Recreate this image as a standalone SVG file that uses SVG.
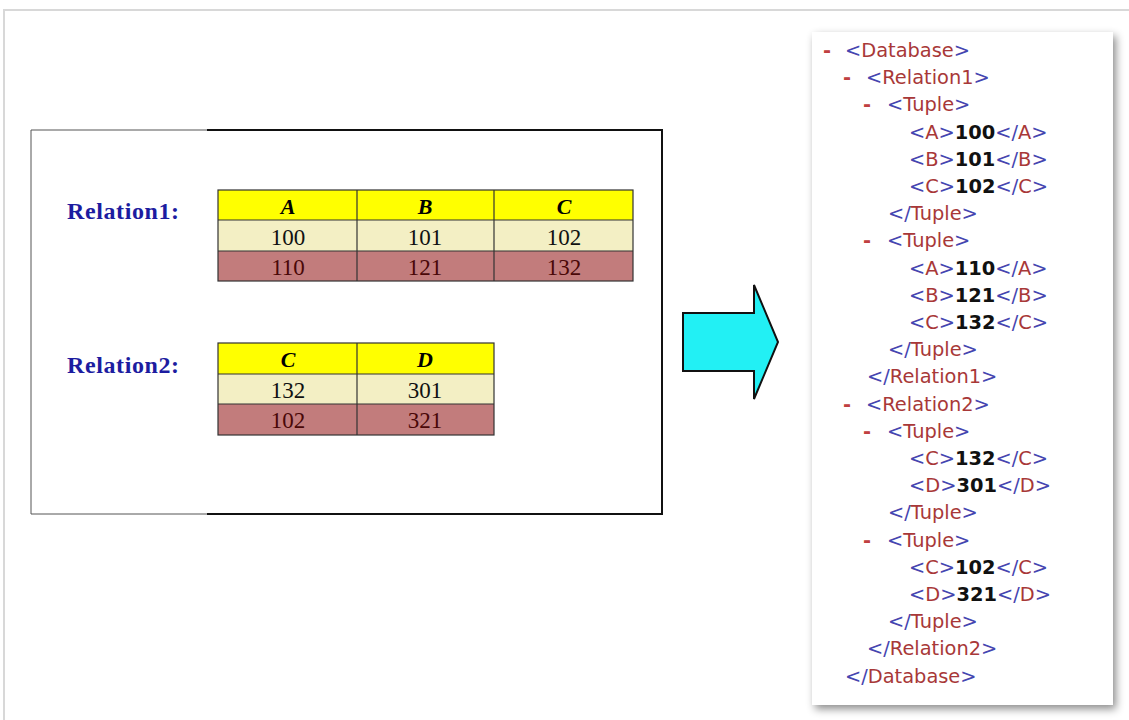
<svg xmlns="http://www.w3.org/2000/svg" width="1129" height="720" viewBox="0 0 1129 720">
<defs>
<filter id="sh" x="-10%" y="-10%" width="130%" height="130%">
<feDropShadow dx="3" dy="4" stdDeviation="4" flood-color="#000" flood-opacity="0.45"/>
</filter>
</defs>
<style>
.lbl{font-family:"Liberation Serif",serif;font-weight:bold;font-size:24px;letter-spacing:0.6px;fill:#1c1ca0}
.hd{font-family:"Liberation Serif",serif;font-weight:bold;font-style:italic;font-size:22px;fill:#000;text-anchor:middle}
.v1{font-family:"Liberation Serif",serif;font-size:23px;fill:#111;text-anchor:middle}
.v2{font-family:"Liberation Serif",serif;font-size:23px;fill:#4a0808;text-anchor:middle}
.grid{stroke:#333;stroke-width:1.2;fill:none}
.x{font-family:"DejaVu Sans",sans-serif;font-size:19.4px;fill:#a83838}
.b{fill:#4545b0}
.n{fill:#a83838}
.d{fill:#c04040;font-weight:bold}
.val{fill:#111;font-weight:bold}
</style>
<rect width="1129" height="720" fill="#fff"/>
<path d="M4 720 V10 H1129" fill="none" stroke="#d8d8d8" stroke-width="2"/>

<g id="source">
<line x1="31" y1="130" x2="207" y2="130" stroke="#555" stroke-width="1"/>
<line x1="207" y1="130" x2="663" y2="130" stroke="#111" stroke-width="2"/>
<line x1="31" y1="130" x2="31" y2="514" stroke="#555" stroke-width="1"/>
<line x1="662" y1="130" x2="662" y2="515" stroke="#111" stroke-width="2"/>
<line x1="31" y1="514" x2="207" y2="514" stroke="#555" stroke-width="1"/>
<line x1="207" y1="514" x2="663" y2="514" stroke="#111" stroke-width="2"/>
</g>

<g id="relation1">
<text class="lbl" x="67" y="219">Relation1:</text>
<rect x="218" y="190" width="415" height="30" fill="#ffff00"/>
<rect x="218" y="220" width="415" height="31" fill="#f3efc4"/>
<rect x="218" y="251" width="415" height="30" fill="#c27c7c"/>
<rect class="grid" x="218" y="190" width="415" height="91"/>
<line class="grid" x1="218" y1="220" x2="633" y2="220"/>
<line class="grid" x1="218" y1="251" x2="633" y2="251"/>
<line class="grid" x1="357" y1="190" x2="357" y2="281"/>
<line class="grid" x1="494" y1="190" x2="494" y2="281"/>
<text class="hd" x="288" y="214">A</text>
<text class="hd" x="425" y="214">B</text>
<text class="hd" x="564" y="214">C</text>
<text class="v1" x="288" y="245">100</text>
<text class="v1" x="425" y="245">101</text>
<text class="v1" x="564" y="245">102</text>
<text class="v2" x="288" y="275">110</text>
<text class="v2" x="425" y="275">121</text>
<text class="v2" x="564" y="275">132</text>
</g>

<g id="relation2">
<text class="lbl" x="67" y="373">Relation2:</text>
<rect x="218" y="343" width="276" height="31" fill="#ffff00"/>
<rect x="218" y="374" width="276" height="30" fill="#f3efc4"/>
<rect x="218" y="404" width="276" height="31" fill="#c27c7c"/>
<rect class="grid" x="218" y="343" width="276" height="92"/>
<line class="grid" x1="218" y1="374" x2="494" y2="374"/>
<line class="grid" x1="218" y1="404" x2="494" y2="404"/>
<line class="grid" x1="357" y1="343" x2="357" y2="435"/>
<text class="hd" x="288" y="367">C</text>
<text class="hd" x="425" y="367">D</text>
<text class="v1" x="288" y="398">132</text>
<text class="v1" x="425" y="398">301</text>
<text class="v2" x="288" y="428">102</text>
<text class="v2" x="425" y="428">321</text>
</g>

<g id="connectors">
<path d="M683 313 H754 V285 L778 342 L754 399 V371 H683 Z" fill="#22f0f4" stroke="#111" stroke-width="2" stroke-linejoin="miter"/>
</g>

<g id="xml">
<rect x="812" y="32" width="301" height="673" fill="#fff" filter="url(#sh)"/>
<g class="x">
<text x="823" y="57"><tspan class="d">-</tspan><tspan x="845" class="b">&lt;</tspan><tspan class="n">Database</tspan><tspan class="b">&gt;</tspan></text>
<text x="843" y="84.2"><tspan class="d">-</tspan><tspan x="866" class="b">&lt;</tspan><tspan class="n">Relation1</tspan><tspan class="b">&gt;</tspan></text>
<text x="863" y="111.4"><tspan class="d">-</tspan><tspan x="887" class="b">&lt;</tspan><tspan class="n">Tuple</tspan><tspan class="b">&gt;</tspan></text>
<text x="909" y="138.6"><tspan class="b">&lt;</tspan><tspan class="n">A</tspan><tspan class="b">&gt;</tspan><tspan class="val">100</tspan><tspan class="b">&lt;/</tspan><tspan class="n">A</tspan><tspan class="b">&gt;</tspan></text>
<text x="909" y="165.8"><tspan class="b">&lt;</tspan><tspan class="n">B</tspan><tspan class="b">&gt;</tspan><tspan class="val">101</tspan><tspan class="b">&lt;/</tspan><tspan class="n">B</tspan><tspan class="b">&gt;</tspan></text>
<text x="909" y="193"><tspan class="b">&lt;</tspan><tspan class="n">C</tspan><tspan class="b">&gt;</tspan><tspan class="val">102</tspan><tspan class="b">&lt;/</tspan><tspan class="n">C</tspan><tspan class="b">&gt;</tspan></text>
<text x="888" y="220.2"><tspan class="b">&lt;/</tspan><tspan class="n">Tuple</tspan><tspan class="b">&gt;</tspan></text>
<text x="863" y="247.4"><tspan class="d">-</tspan><tspan x="887" class="b">&lt;</tspan><tspan class="n">Tuple</tspan><tspan class="b">&gt;</tspan></text>
<text x="909" y="274.6"><tspan class="b">&lt;</tspan><tspan class="n">A</tspan><tspan class="b">&gt;</tspan><tspan class="val">110</tspan><tspan class="b">&lt;/</tspan><tspan class="n">A</tspan><tspan class="b">&gt;</tspan></text>
<text x="909" y="301.8"><tspan class="b">&lt;</tspan><tspan class="n">B</tspan><tspan class="b">&gt;</tspan><tspan class="val">121</tspan><tspan class="b">&lt;/</tspan><tspan class="n">B</tspan><tspan class="b">&gt;</tspan></text>
<text x="909" y="329"><tspan class="b">&lt;</tspan><tspan class="n">C</tspan><tspan class="b">&gt;</tspan><tspan class="val">132</tspan><tspan class="b">&lt;/</tspan><tspan class="n">C</tspan><tspan class="b">&gt;</tspan></text>
<text x="888" y="356.2"><tspan class="b">&lt;/</tspan><tspan class="n">Tuple</tspan><tspan class="b">&gt;</tspan></text>
<text x="867" y="383.4"><tspan class="b">&lt;/</tspan><tspan class="n">Relation1</tspan><tspan class="b">&gt;</tspan></text>
<text x="843" y="410.6"><tspan class="d">-</tspan><tspan x="866" class="b">&lt;</tspan><tspan class="n">Relation2</tspan><tspan class="b">&gt;</tspan></text>
<text x="863" y="437.8"><tspan class="d">-</tspan><tspan x="887" class="b">&lt;</tspan><tspan class="n">Tuple</tspan><tspan class="b">&gt;</tspan></text>
<text x="909" y="465"><tspan class="b">&lt;</tspan><tspan class="n">C</tspan><tspan class="b">&gt;</tspan><tspan class="val">132</tspan><tspan class="b">&lt;/</tspan><tspan class="n">C</tspan><tspan class="b">&gt;</tspan></text>
<text x="909" y="492.2"><tspan class="b">&lt;</tspan><tspan class="n">D</tspan><tspan class="b">&gt;</tspan><tspan class="val">301</tspan><tspan class="b">&lt;/</tspan><tspan class="n">D</tspan><tspan class="b">&gt;</tspan></text>
<text x="888" y="519.4"><tspan class="b">&lt;/</tspan><tspan class="n">Tuple</tspan><tspan class="b">&gt;</tspan></text>
<text x="863" y="546.6"><tspan class="d">-</tspan><tspan x="887" class="b">&lt;</tspan><tspan class="n">Tuple</tspan><tspan class="b">&gt;</tspan></text>
<text x="909" y="573.8"><tspan class="b">&lt;</tspan><tspan class="n">C</tspan><tspan class="b">&gt;</tspan><tspan class="val">102</tspan><tspan class="b">&lt;/</tspan><tspan class="n">C</tspan><tspan class="b">&gt;</tspan></text>
<text x="909" y="601"><tspan class="b">&lt;</tspan><tspan class="n">D</tspan><tspan class="b">&gt;</tspan><tspan class="val">321</tspan><tspan class="b">&lt;/</tspan><tspan class="n">D</tspan><tspan class="b">&gt;</tspan></text>
<text x="888" y="628.2"><tspan class="b">&lt;/</tspan><tspan class="n">Tuple</tspan><tspan class="b">&gt;</tspan></text>
<text x="867" y="655.4"><tspan class="b">&lt;/</tspan><tspan class="n">Relation2</tspan><tspan class="b">&gt;</tspan></text>
<text x="845" y="682.6"><tspan class="b">&lt;/</tspan><tspan class="n">Database</tspan><tspan class="b">&gt;</tspan></text>
</g>
</g>
</svg>
